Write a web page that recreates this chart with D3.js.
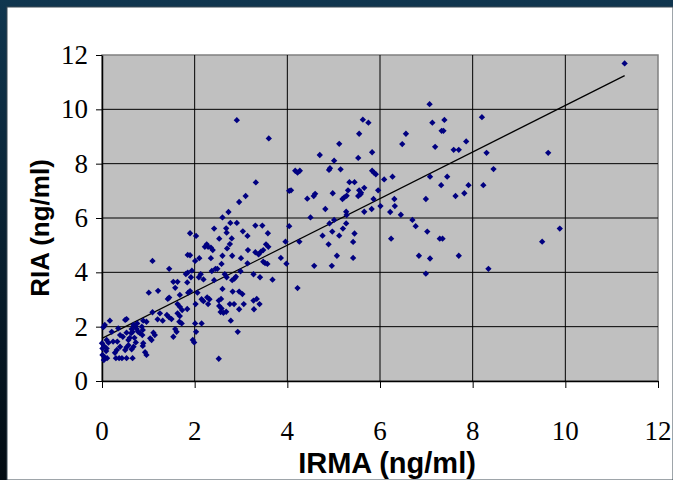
<!DOCTYPE html>
<html>
<head>
<meta charset="utf-8">
<script src="https://cdn.jsdelivr.net/npm/d3@7"></script>
<style>
  html, body { margin: 0; padding: 0; background: #0a2538; }
  svg { display: block; }
</style>
</head>
<body>
<div id="chart"></div>
<script>
// IRMA vs RIA scatter
var irma = [
  2.91, 3.60, 3.32, 3.10, 2.96, 2.73, 2.60, 4.04,
  7.07, 7.13, 7.39, 7.33, 7.37, 7.19, 7.59, 7.70, 7.86, 6.48, 6.56, 5.63, 5.75, 5.55, 5.12, 4.70, 5.01, 5.53, 5.83,
  4.17, 4.22, 4.27, 4.90, 4.92, 5.15, 5.83, 5.87, 5.91, 6.09, 6.27, 7.08, 7.45, 7.32, 7.91, 7.82, 7.63, 6.99,
  4.08, 4.43, 4.57, 4.60, 4.98, 5.34, 5.45, 5.31, 5.19, 5.23, 5.28, 5.55, 5.59, 5.66, 5.53, 5.58, 5.96, 5.86,
  4.82, 5.66, 5.82, 6.01, 6.31, 6.32, 6.22, 6.45, 4.50, 5.27, 5.28, 5.01, 4.91, 5.27, 5.20, 4.04, 3.96, 4.26,
  4.97, 4.76, 5.12, 5.45, 5.42, 4.89, 5.07, 5.42, 4.58, 4.96, 3.98, 3.86,
  6.24, 6.70, 6.77, 7.02, 7.29, 7.35, 6.84, 7.08, 7.70, 6.99,
  11.28, 8.20, 8.30, 9.63, 8.45, 8.23, 9.88, 9.50, 8.34, 4.22,
  2.91, 2.77, 2.42, 2.68, 2.69, 3.04, 3.14, 3.31, 3.46, 3.58, 2.03, 1.90, 2.53, 2.80, 2.76, 2.26, 2.29, 2.35,
  2.39, 2.22, 2.70, 3.15, 3.54, 3.59, 3.31, 3.38, 3.43, 3.48, 1.90, 2.10, 2.01, 2.35, 2.60, 2.81, 3.00, 2.58,
  3.48, 3.57, 3.52, 3.14, 2.37, 2.45, 2.49, 1.94, 2.13, 2.09, 2.19, 1.92, 2.65, 2.69, 2.99, 3.27, 3.41, 3.68,
  2.42, 2.81, 2.86, 2.89, 2.60, 1.90,
  2.06, 2.15, 2.19, 2.27, 2.32, 2.29, 2.02, 2.52, 2.57, 2.53, 2.58, 2.56, 2.62, 2.68, 2.76, 2.85, 2.96, 3.06,
  2.82, 2.96, 3.03, 3.27, 3.34, 3.40, 3.28, 2.78, 2.01, 2.15, 2.03, 1.96, 1.99, 2.93, 2.52,
  1.85, 1.09, 1.45, 1.81, 1.85, 1.54, 1.63, 1.58, 1.84, 1.21, 1.01, 1.86, 1.68,
  1.42, 1.45, 1.63, 1.68, 1.73, 1.84, 1.09, 1.25, 1.40, 1.45, 1.50, 1.63, 1.68, 1.67, 1.72, 0.89, 0.96, 0.76,
  0.68, 0.72, 0.64, 0.50, 0.53, 0.17, 0.03, 0.06, 0.35, 0.21, 0.39, 0.45, 0.53, 0.63, 0.66, 0.75, 0.78, 0.82,
  0.86, 0.88, 0.60, 0.57, 0.70, 0.87, 1.11, 1.14, 1.07, 0.89, 0.88, 0.73, 0.68, 0.64, 0.57, 0.50, 0.53, 0.32,
  0.28, 0.39, 0.24, 0.33, 0.10, 0.14, 0.00, 0.04, 0.01, 0.10, 0.09, 0.01, 0.06, 0.11, 0.04, 0.30, 0.37, 0.43,
  0.53, 0.66, 0.93, 0.96, 1.04, 1.20, 1.58, 1.61, 1.54, 1.31
];
var ria = [
  9.60, 8.93, 7.31, 6.81, 6.59, 6.22, 6.02, 7.00,
  10.19, 9.51, 9.61, 9.21, 9.21, 8.62, 8.51, 8.51, 8.82, 8.72, 9.10, 9.62, 9.51, 9.10, 8.73, 8.32, 8.11, 8.21, 8.42,
  7.74, 7.67, 7.74, 7.77, 7.83, 7.79, 7.74, 7.67, 7.61, 7.42, 7.52, 7.52, 7.52, 7.21, 7.21, 6.91, 6.81, 6.70,
  7.02, 6.71, 6.81, 6.89, 6.91, 7.32, 7.32, 7.02, 6.70, 6.76, 6.82, 7.02, 6.93, 7.11, 6.81, 6.87, 7.02, 6.70,
  6.33, 6.23, 6.33, 6.44, 6.70, 6.44, 6.22, 6.12, 6.02, 6.23, 6.11, 5.93, 5.80, 5.80, 5.61, 5.70, 5.13, 5.13,
  5.50, 5.35, 5.35, 5.43, 5.12, 5.03, 4.61, 4.53, 4.24, 4.24, 4.32, 4.53,
  5.24, 5.93, 5.70, 5.50, 5.24, 5.24, 4.61, 4.51, 4.61, 3.95,
  11.69, 9.71, 8.40, 8.40, 7.80, 7.21, 5.61, 5.13, 4.13, 3.42,
  5.82, 5.82, 5.61, 5.62, 5.46, 5.51, 5.34, 5.72, 5.72, 5.44, 5.34, 5.44, 5.24, 5.25, 5.04, 5.03, 4.94, 4.91,
  4.82, 4.94, 4.88, 4.82, 5.03, 4.94, 4.74, 4.66, 4.76, 4.82, 4.63, 4.52, 4.42, 4.52, 4.61, 4.61, 4.52, 4.31,
  4.39, 4.31, 4.34, 4.33, 4.05, 4.13, 4.13, 4.06, 3.93, 3.82, 3.74, 3.82, 3.93, 3.82, 4.04, 3.93, 3.82, 3.73,
  3.71, 3.71, 3.77, 3.84, 3.39, 3.31,
  3.25, 3.01, 2.94, 3.08, 3.01, 2.83, 2.83, 2.96, 3.02, 2.76, 2.67, 2.54, 2.51, 2.55, 2.83, 2.83, 2.64, 2.83,
  3.29, 3.29, 3.20, 2.96, 3.02, 2.83, 2.64, 2.22, 2.12, 2.12, 1.81, 1.51, 1.42, 1.81, 0.82,
  4.64, 4.42, 4.13, 3.94, 3.99, 3.65, 3.65, 3.43, 3.63, 3.32, 3.25, 3.25, 3.17,
  3.02, 3.07, 2.83, 2.73, 2.61, 2.65, 2.53, 2.49, 2.43, 2.34, 2.28, 2.49, 2.39, 2.18, 2.12, 2.22, 2.18, 2.12,
  2.06, 2.00, 1.91, 2.25, 2.28, 2.22, 1.98, 2.06, 1.94, 1.81, 1.69, 1.63, 1.78, 1.76, 1.81, 1.91, 1.81, 1.76,
  2.00, 1.88, 1.59, 1.51, 1.59, 1.69, 1.78, 1.69, 1.51, 1.39, 1.29, 1.42, 1.26, 1.17, 1.32, 1.14, 1.24, 1.14,
  1.04, 1.26, 1.45, 1.45, 1.51, 1.41, 1.39, 1.29, 1.20, 1.20, 1.10, 0.96, 0.87, 0.84, 0.77, 0.84, 0.84, 0.84,
  0.84, 0.84, 1.06, 0.96, 1.57, 2.27, 1.91, 1.81, 1.63, 2.22
];
// trend line end points as drawn in the original
var trendX = [0, 11.28];
var trendY = [1.57, 11.24];
var tickValues = [0, 2, 4, 6, 8, 10, 12];

var W = 673, H = 480;
var plot = { left: 102, top: 55, right: 658, bottom: 381 };
var serifFont = "Liberation Serif";

var svg = d3.select("#chart").append("svg")
    .attr("width", W)
    .attr("height", H);

// dark slide background
var grad = svg.append("defs").append("linearGradient")
    .attr("id", "bg")
    .attr("x1", 0).attr("y1", 0).attr("x2", 0).attr("y2", 1);
grad.append("stop").attr("offset", "0%").attr("stop-color", "#10364f");
grad.append("stop").attr("offset", "100%").attr("stop-color", "#020b12");

svg.append("rect")
    .attr("width", W).attr("height", H)
    .attr("fill", "url(#bg)");

// white chart panel
svg.append("rect")
    .attr("x", 7).attr("y", 7)
    .attr("width", W - 7).attr("height", H - 7)
    .attr("fill", "#ffffff")
    .attr("stroke", "#3c4a55")
    .attr("stroke-width", 1);

var x = d3.scaleLinear().domain([0, 12]).range([plot.left, plot.right]);
var y = d3.scaleLinear().domain([0, 12]).range([plot.bottom, plot.top]);

// plot area
svg.append("rect")
    .attr("x", plot.left).attr("y", plot.top)
    .attr("width", plot.right - plot.left)
    .attr("height", plot.bottom - plot.top)
    .attr("fill", "#c0c0c0")
    .attr("stroke", "#808080")
    .attr("stroke-width", 1.5);

// grid lines
var inner = tickValues.filter(function (d) { return d > 0 && d < 12; });
svg.append("g")
    .selectAll("line")
    .data(inner)
    .enter().append("line")
    .attr("x1", plot.left).attr("x2", plot.right)
    .attr("y1", function (d) { return y(d); })
    .attr("y2", function (d) { return y(d); })
    .attr("stroke", "#000").attr("stroke-width", 1);

svg.append("g")
    .selectAll("line")
    .data(inner)
    .enter().append("line")
    .attr("y1", plot.top).attr("y2", plot.bottom)
    .attr("x1", function (d) { return x(d); })
    .attr("x2", function (d) { return x(d); })
    .attr("stroke", "#000").attr("stroke-width", 1);

// axes (tick marks only, labels drawn below)
var yAxis = svg.append("g")
    .attr("transform", "translate(" + plot.left + ",0)")
    .call(d3.axisLeft(y).tickValues(tickValues).tickSize(6).tickFormat("").tickSizeOuter(0));

var xAxis = svg.append("g")
    .attr("transform", "translate(0," + plot.bottom + ")")
    .call(d3.axisBottom(x).tickValues(tickValues).tickSize(7).tickFormat("").tickSizeOuter(0));

[yAxis, xAxis].forEach(function (ax) {
    ax.select(".domain").attr("stroke", "#000").attr("stroke-width", 1.5);
    ax.selectAll(".tick line").attr("stroke", "#000");
});

// tick labels
svg.append("g")
    .selectAll("text")
    .data(tickValues)
    .enter().append("text")
    .attr("x", 88)
    .attr("y", function (d) { return y(d) + 9; })
    .attr("text-anchor", "end")
    .style("font-family", serifFont)
    .style("font-size", "27px")
    .attr("fill", "#000")
    .text(function (d) { return d; });

svg.append("g")
    .selectAll("text")
    .data(tickValues)
    .enter().append("text")
    .attr("x", function (d) { return x(d); })
    .attr("y", 440)
    .attr("text-anchor", "middle")
    .style("font-family", serifFont)
    .style("font-size", "27px")
    .attr("fill", "#000")
    .text(function (d) { return d; });

// trend line
svg.append("path")
    .datum(d3.zip(trendX, trendY))
    .attr("d", d3.line().x(function (d) { return x(d[0]); }).y(function (d) { return y(d[1]); }))
    .attr("stroke", "#000")
    .attr("stroke-width", 1.2)
    .attr("fill", "none");

// points
svg.append("g")
    .selectAll("path")
    .data(d3.zip(irma, ria))
    .enter().append("path")
    .attr("d", d3.symbol().type(d3.symbolSquare).size(20))
    .attr("transform", function (d) {
        return "translate(" + x(d[0]) + "," + y(d[1]) + ") rotate(45)";
    })
    .attr("fill", "#000080");

// axis titles
svg.append("text")
    .attr("x", 387).attr("y", 473)
    .attr("text-anchor", "middle")
    .style("font-family", "Liberation Sans")
    .style("font-weight", "bold")
    .style("font-size", "29px")
    .text("IRMA (ng/ml)");

svg.append("text")
    .attr("transform", "translate(49,228) rotate(-90)")
    .attr("text-anchor", "middle")
    .style("font-family", "Liberation Sans")
    .style("font-weight", "bold")
    .style("font-size", "26px")
    .text("RIA (ng/ml)");
</script>
</body>
</html>
